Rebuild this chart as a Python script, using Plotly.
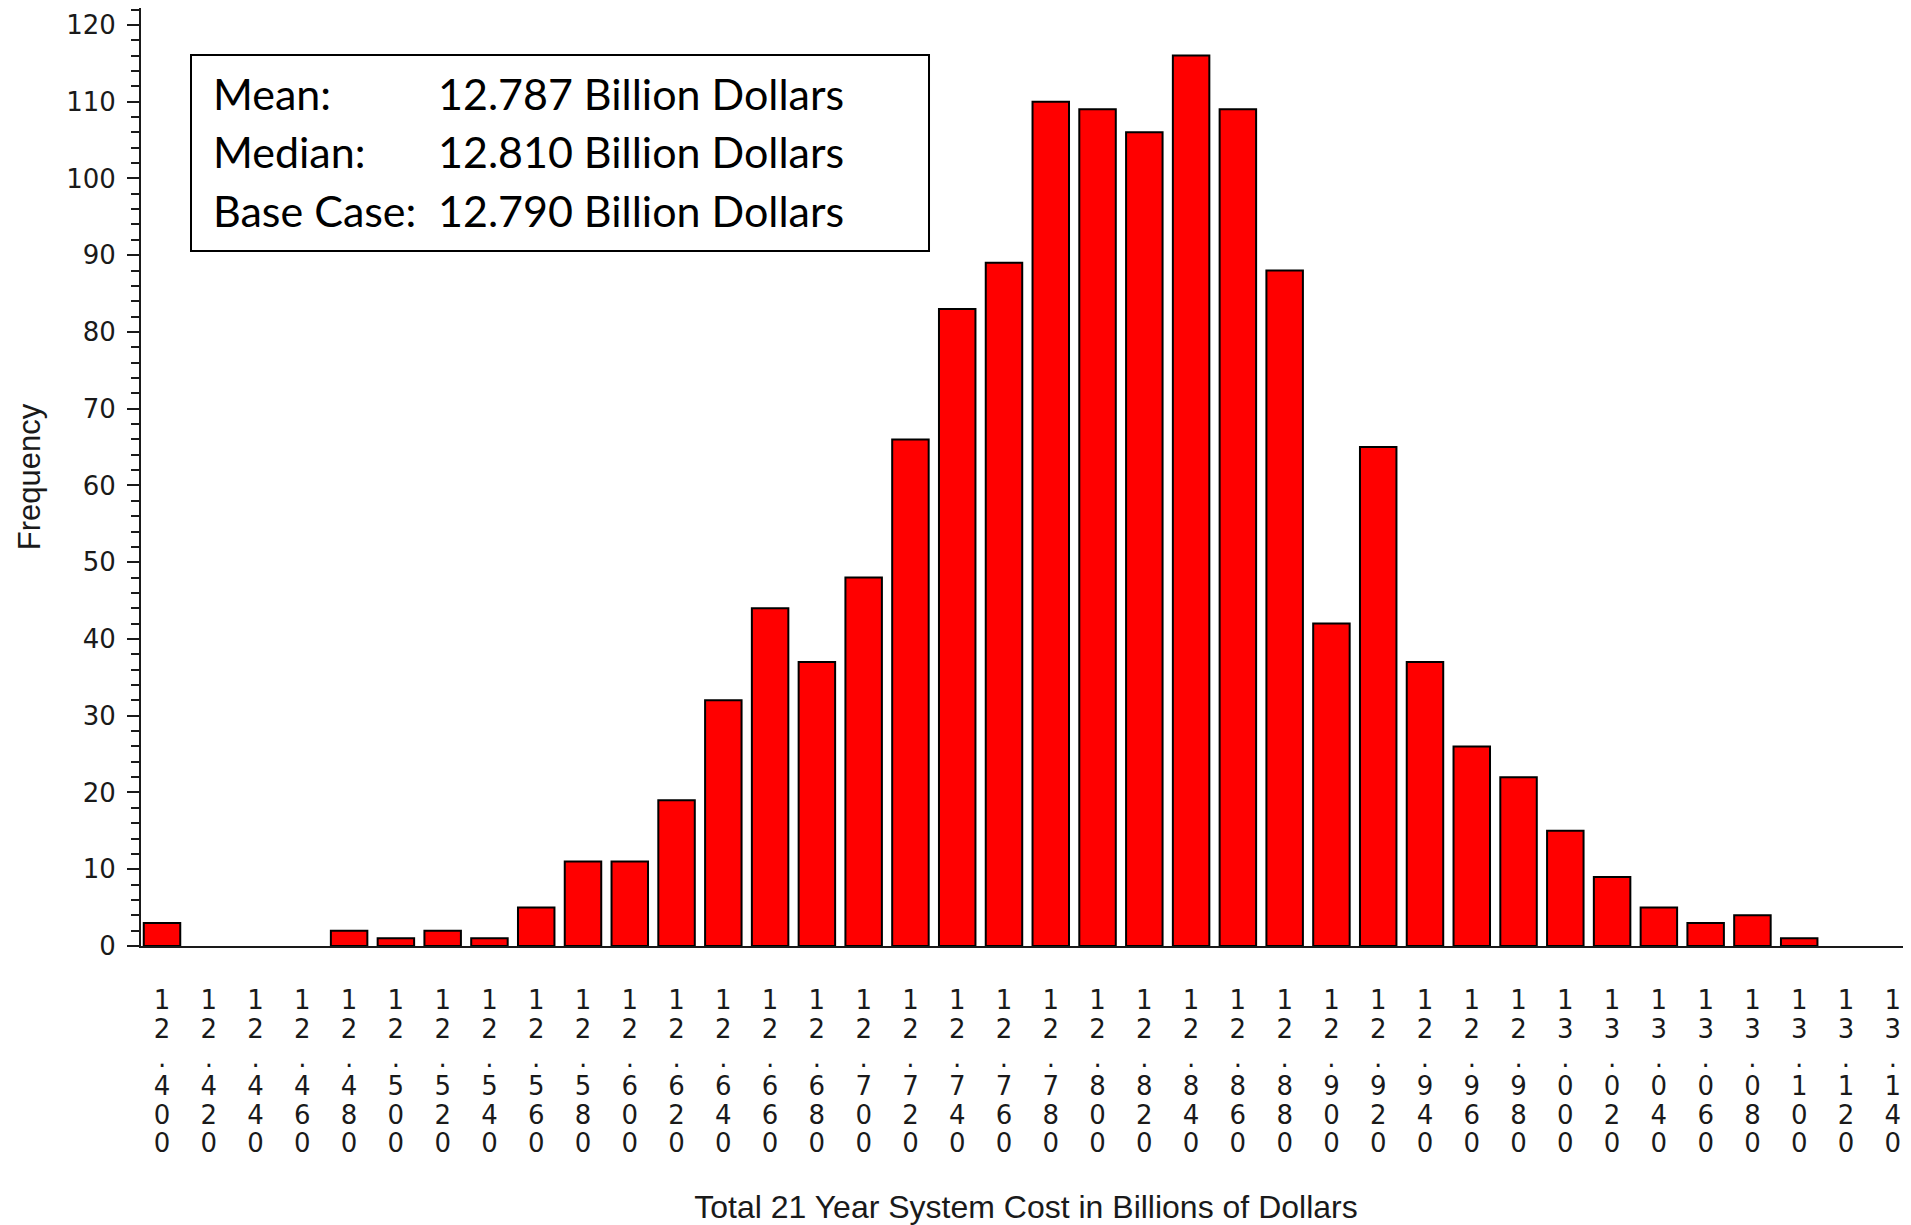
import plotly.graph_objects as go

# ---- data ----
cost_bins = ["12.400", "12.420", "12.440", "12.460", "12.480", "12.500", "12.520", "12.540",
             "12.560", "12.580", "12.600", "12.620", "12.640", "12.660", "12.680", "12.700",
             "12.720", "12.740", "12.760", "12.780", "12.800", "12.820", "12.840", "12.860",
             "12.880", "12.900", "12.920", "12.940", "12.960", "12.980", "13.000", "13.020",
             "13.040", "13.060", "13.080", "13.100", "13.120", "13.140"]
frequency = [3, 0, 0, 0, 2, 1, 2, 1,
             5, 11, 11, 19, 32, 44, 37, 48,
             66, 83, 89, 110, 109, 106, 116, 109,
             88, 42, 65, 37, 26, 22, 15, 9,
             5, 3, 4, 1, 0, 0]
stat_labels = ["Mean:", "Median:", "Base Case:"]
stat_values = ["12.787 Billion Dollars", "12.810 Billion Dollars", "12.790 Billion Dollars"]
x_title = "Total 21 Year System Cost in Billions of Dollars"
y_title = "Frequency"

AXIS_COLOR = "#1a1a1a"
TICK_FONT = "DejaVu Sans, Verdana, sans-serif"
TITLE_FONT = "Liberation Sans, Arial, sans-serif"


def stacked(label):
    return "<br>".join('<span style="font-size:26px">%s</span>' % ch for ch in label)


fig = go.Figure()
fig.add_trace(go.Bar(
    x=cost_bins,
    y=frequency,
    marker=dict(color="#ff0000",
                line=dict(color="#000000", width=[2 if v > 0 else 0 for v in frequency])),
    showlegend=False,
))

# the page body adds an 8px margin, so the figure is sized/offset to compensate
fig.update_layout(
    width=1903,
    height=1217,
    margin=dict(l=133, r=0, t=0, b=279, autoexpand=False),
    paper_bgcolor="white",
    plot_bgcolor="white",
    bargap=0.22,
    font=dict(family=TITLE_FONT, color=AXIS_COLOR),
    xaxis=dict(
        type="category",
        range=[-0.449, 37.39],
        tickmode="array",
        tickvals=cost_bins,
        ticktext=[stacked(c) for c in cost_bins],
        tickangle=0,
        tickfont=dict(size=22, family=TICK_FONT, color=AXIS_COLOR),
        ticks="",
        ticklabelstandoff=35,
        showline=True,
        linecolor=AXIS_COLOR,
        linewidth=2,
        mirror=True,
        showgrid=False,
        zeroline=False,
        title=dict(text=x_title, font=dict(size=32, family=TITLE_FONT, color=AXIS_COLOR), standoff=40),
    ),
    yaxis=dict(
        range=[0, 122.2],
        tickmode="linear",
        tick0=0,
        dtick=10,
        ticks="outside",
        ticklen=12,
        tickwidth=2,
        tickcolor=AXIS_COLOR,
        ticklabelstandoff=6,
        tickfont=dict(size=26, family=TICK_FONT, color=AXIS_COLOR),
        minor=dict(dtick=2, ticks="outside", ticklen=8, tickwidth=2, tickcolor=AXIS_COLOR, showgrid=False),
        showline=True,
        linecolor=AXIS_COLOR,
        linewidth=2,
        showgrid=False,
        zeroline=False,
        title=dict(text=y_title, font=dict(size=31, family=TITLE_FONT, color=AXIS_COLOR), standoff=16),
    ),
)

# statistics box
fig.add_shape(type="rect", xref="paper", yref="paper",
              x0=0.02825, x1=0.4452, y0=0.741, y1=0.950,
              line=dict(color="#000000", width=2), fillcolor="rgba(255,255,255,0)")

line_y = [0.9085, 0.8465, 0.784]
for lab, val, yy in zip(stat_labels, stat_values, line_y):
    fig.add_annotation(xref="paper", yref="paper", x=0.0395, y=yy, xanchor="left", yanchor="middle",
                       text=lab, showarrow=False, font=dict(family="Lato, sans-serif", size=43, color="#000000"))
    fig.add_annotation(xref="paper", yref="paper", x=0.1668, y=yy, xanchor="left", yanchor="middle",
                       text=val, showarrow=False, font=dict(family="Lato, sans-serif", size=43, color="#000000"))

fig.write_html("out.html")
